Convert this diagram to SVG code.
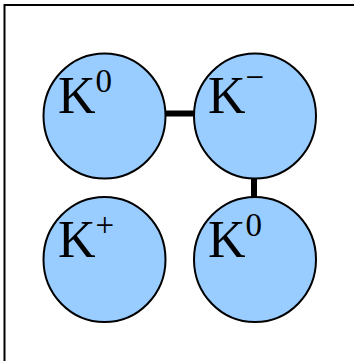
<svg xmlns="http://www.w3.org/2000/svg" width="354" height="361" viewBox="0 0 354 361">
<style>
.node{fill:#99ccff;stroke:#000;stroke-width:2}
.lbl{font-family:"Liberation Serif","Times New Roman",serif;fill:#000}
.big{font-size:52px}
.sup{font-size:33px}
.conn{stroke:#000;stroke-width:6;fill:none}
</style>
<rect x="4.5" y="5" width="360" height="370" fill="#fff" stroke="#000" stroke-width="2"/>
<g id="connectors">
<line class="conn" x1="165" y1="113.5" x2="195" y2="113.5"/>
<line class="conn" x1="254" y1="177" x2="254" y2="198"/>
</g>
<g id="node-k0-top">
<ellipse class="node" cx="104.5" cy="116" rx="61" ry="62.5"/>
<text class="lbl" x="58" y="113"><tspan class="big">K</tspan><tspan class="sup" dy="-21">0</tspan></text>
</g>
<g id="node-kminus">
<ellipse class="node" cx="255" cy="116" rx="61" ry="62.5"/>
<text class="lbl" x="208" y="113"><tspan class="big">K</tspan><tspan class="sup" dy="-25">−</tspan></text>
</g>
<g id="node-kplus">
<ellipse class="node" cx="104.5" cy="259.5" rx="61" ry="62.5"/>
<text class="lbl" x="58" y="257"><tspan class="big">K</tspan><tspan class="sup" dy="-21">+</tspan></text>
</g>
<g id="node-k0-bottom">
<ellipse class="node" cx="255" cy="259.5" rx="61" ry="62.5"/>
<text class="lbl" x="208" y="257"><tspan class="big">K</tspan><tspan class="sup" dy="-21">0</tspan></text>
</g>
</svg>
